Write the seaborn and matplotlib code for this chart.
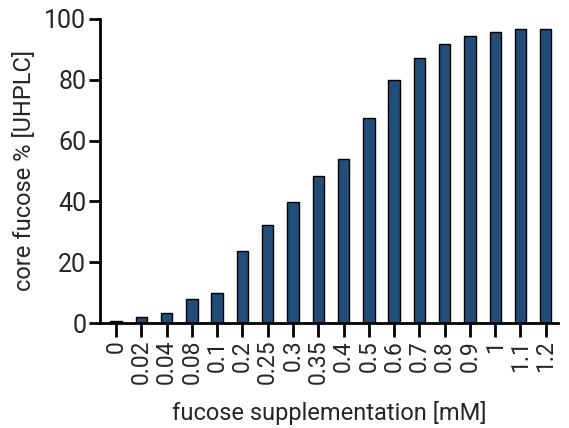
import matplotlib
matplotlib.use("Agg")
import matplotlib.pyplot as plt
import seaborn as sns
import pandas as pd

# Data
doses = ['0', '0.02', '0.04', '0.08', '0.1', '0.2', '0.25', '0.3', '0.35', '0.4',
         '0.5', '0.6', '0.7', '0.8', '0.9', '1', '1.1', '1.2']
core_fucose = [0.8, 2.0, 3.4, 7.8, 9.8, 23.8, 32.3, 39.7, 48.4, 54.0,
               67.3, 79.8, 87.2, 91.8, 94.5, 95.8, 96.7, 96.8]

df = pd.DataFrame({'dose': doses, 'fucose': core_fucose})

sns.set_style('ticks')
plt.rcParams['font.family'] = ['Roboto', 'DejaVu Sans']

fig = plt.figure(figsize=(5.69, 4.28), dpi=100)
ax = fig.add_axes([0.176, 0.245, 0.804, 0.711])

sns.barplot(data=df, x='dose', y='fucose', order=doses, color='#224d78',
            saturation=1, width=0.45, edgecolor='black', linewidth=1, ax=ax)

ax.set_ylim(0, 100)
ax.set_yticks([0, 20, 40, 60, 80, 100])
ax.set_xlim(-0.63, 17.47)
ax.set_xlabel('fucose supplementation [mM]', fontsize=17, labelpad=12)
ax.set_ylabel('core fucose % [UHPLC]', fontsize=17, labelpad=6)
ax.tick_params(axis='x', labelrotation=90, labelsize=16.5, length=10, width=2, color='black', pad=2)
ax.tick_params(axis='y', labelsize=18, length=8, width=2, color='black', pad=2)
for side in ['left', 'bottom']:
    ax.spines[side].set_linewidth(2)
    ax.spines[side].set_color('black')
sns.despine(ax=ax)

fig.savefig('out.png', dpi=100)
